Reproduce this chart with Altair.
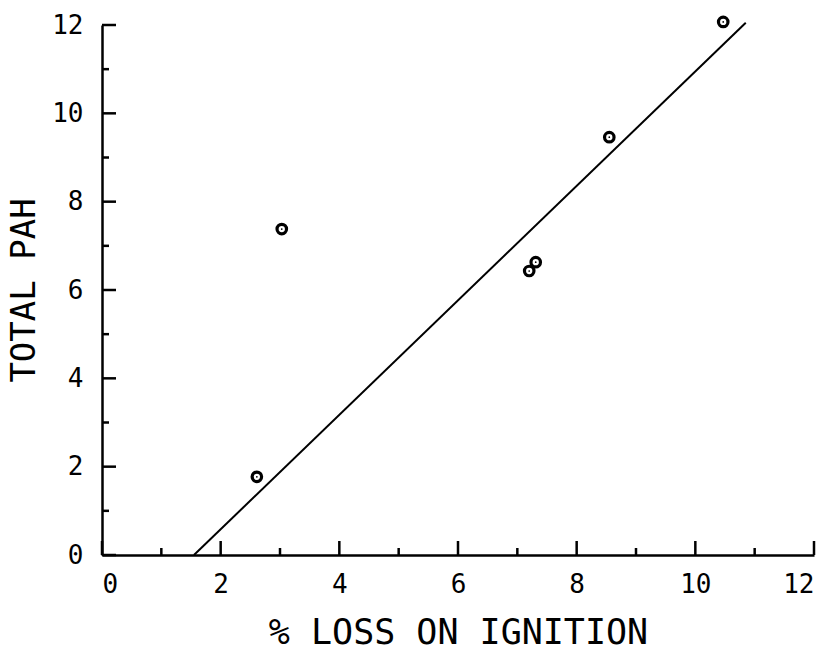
import altair as alt
import pandas as pd

# Data
loi = [2.61, 3.03, 7.20, 7.31, 8.55, 10.47]        # % loss on ignition
pah = [1.77, 7.38, 6.43, 6.63, 9.46, 12.07]        # total PAH
fit_x = [1.55, 10.85]
fit_y = [0.0, 12.05]
major_ticks = [0, 2, 4, 6, 8, 10, 12]
minor_ticks = [1, 3, 5, 7, 9, 11]

W, H = 712, 530
MAJ, MIN = 14, 7
FONT = "DejaVu Sans Mono"

pts = pd.DataFrame({"loi": loi, "pah": pah})
fit = pd.DataFrame({"loi": fit_x, "pah": fit_y})
tmaj = pd.DataFrame({"loi": major_ticks, "pah": major_ticks})
tmin = pd.DataFrame({"loi": minor_ticks, "pah": minor_ticks})

xscale = alt.Scale(domain=[0, 12], nice=False, zero=False)
yscale = alt.Scale(domain=[0, 12], nice=False, zero=False)

xaxis = alt.Axis(values=major_ticks, format="d", ticks=False, grid=False,
                 labelPadding=16, labelFontSize=26, labelFont=FONT,
                 titleFontSize=35, titleFont=FONT, titleFontWeight="normal",
                 titleY=88, titleBaseline="alphabetic")
yaxis = alt.Axis(values=major_ticks, format="d", ticks=False, grid=False,
                 labelPadding=19, labelFontSize=26, labelFont=FONT,
                 titleFontSize=34, titleFont=FONT, titleFontWeight="normal",
                 titleX=-78, titleY=H / 2, titleAlign="center",
                 titleBaseline="middle", titleAngle=270)

XT = "% LOSS ON IGNITION"
YT = "TOTAL PAH"


def X():
    return alt.X("loi:Q", scale=xscale, axis=xaxis, title=XT)


def Y():
    return alt.Y("pah:Q", scale=yscale, axis=yaxis, title=YT)


line = alt.Chart(fit).mark_line(color="black", strokeWidth=2).encode(x=X(), y=Y())
rings = alt.Chart(pts).mark_point(shape="circle", size=90, filled=False,
                                  color="black", strokeWidth=3.2, opacity=1).encode(x=X(), y=Y())
dots = alt.Chart(pts).mark_point(shape="circle", size=3, filled=True,
                                 color="black", opacity=1).encode(x=X(), y=Y())

xmaj = alt.Chart(tmaj).mark_rule(color="black", strokeWidth=2.5).encode(
    x=X(), y=alt.value(H), y2=alt.value(H - MAJ))
xmin = alt.Chart(tmin).mark_rule(color="black", strokeWidth=2.5).encode(
    x=X(), y=alt.value(H), y2=alt.value(H - MIN))
ymaj = alt.Chart(tmaj).mark_rule(color="black", strokeWidth=2.5).encode(
    y=Y(), x=alt.value(0), x2=alt.value(MAJ))
ymin = alt.Chart(tmin).mark_rule(color="black", strokeWidth=2.5).encode(
    y=Y(), x=alt.value(0), x2=alt.value(MIN))

chart = alt.layer(line, rings, dots, xmaj, xmin, ymaj, ymin).properties(
    width=W, height=H,
    autosize=alt.AutoSizeParams(type="none"),
    padding={"left": 102, "top": 25, "right": 21, "bottom": 95},
    background="white",
).configure_view(stroke=None).configure_axis(
    domainColor="black", domainWidth=2.5, labelColor="black", titleColor="black",
)

chart.save("out.html", embed_options={"renderer": "svg", "actions": False})
